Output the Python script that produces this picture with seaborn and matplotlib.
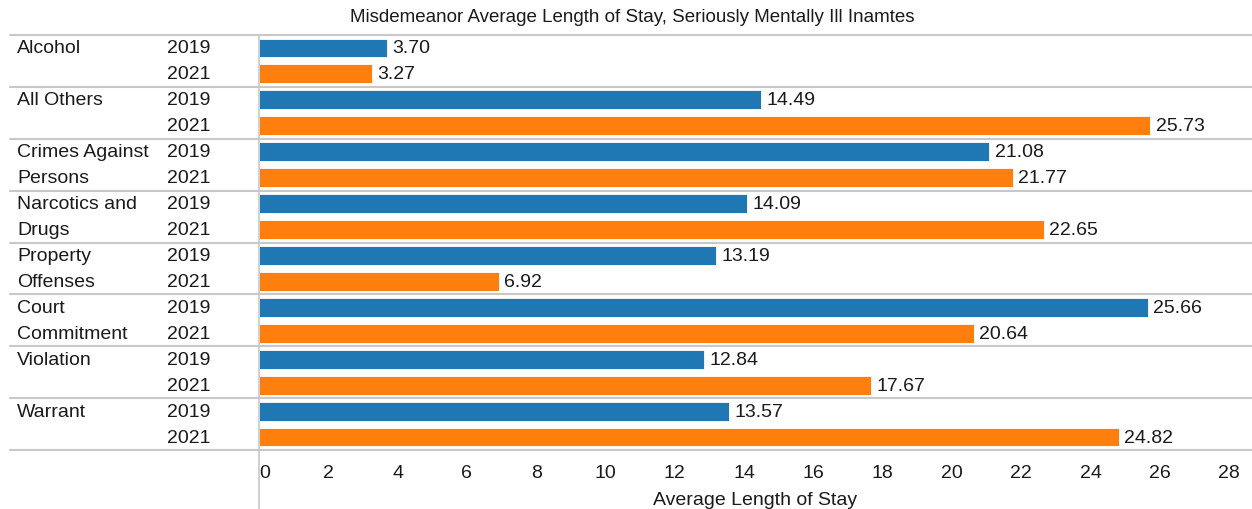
import pandas as pd
import matplotlib
matplotlib.use("Agg")
import matplotlib.pyplot as plt
import matplotlib.transforms as mtransforms
import seaborn as sns

categories = ["Alcohol", "All Others", "Crimes Against\nPersons", "Narcotics and\nDrugs",
              "Property\nOffenses", "Court\nCommitment", "Violation", "Warrant"]
years = ["2019", "2021"]
values_2019 = [3.70, 14.49, 21.08, 14.09, 13.19, 25.66, 12.84, 13.57]
values_2021 = [3.27, 25.73, 21.77, 22.65, 6.92, 20.64, 17.67, 24.82]
xticks = list(range(0, 29, 2))

rows = []
for cat, v19, v21 in zip(categories, values_2019, values_2021):
    rows.append({"row": cat + "|2019", "category": cat, "year": "2019", "value": v19})
    rows.append({"row": cat + "|2021", "category": cat, "year": "2021", "value": v21})
df = pd.DataFrame(rows)

sns.set_style("white")
plt.rcParams["font.family"] = ["Liberation Sans", "DejaVu Sans"]

fig = plt.figure(figsize=(12.52, 5.10), dpi=100)
ax = fig.add_axes([259 / 1252, 59 / 510, 993 / 1252, 415 / 510])

sns.barplot(data=df, y="row", x="value", hue="year", dodge=False, orient="h",
            palette={"2019": "#1f77b4", "2021": "#ff7f0e"}, saturation=1, width=0.73,
            edgecolor="white", linewidth=0.6, legend=False, ax=ax)

ax.set_xlim(0, 28.66)
ax.set_ylim(len(df) - 0.5, -0.5)
ax.set_xticks(xticks)
ax.set_xticklabels([str(t) for t in xticks], fontsize=14, color="#1a1a1a")
ax.get_xticklabels()[0].set_horizontalalignment("left")
ax.set_yticks([])
ax.set_ylabel("")
ax.set_xlabel("Average Length of Stay", fontsize=14, color="#1a1a1a", labelpad=7)
ax.tick_params(axis="x", direction="out", length=4, width=1, color="#c8c8c8", pad=6)
for s in ax.spines.values():
    s.set_visible(False)

# value labels
for i, v in enumerate(df["value"]):
    ax.text(v + 0.15, i, f"{v:.2f}", va="center", ha="left", fontsize=14, color="#1a1a1a")

# row headers and separators
trans = mtransforms.blended_transform_factory(fig.transFigure, ax.transData)
for g, cat in enumerate(categories):
    lines = cat.split("\n")
    for k, line in enumerate(lines):
        ax.text(17 / 1252, 2 * g + k, line, transform=trans, va="center", ha="left",
                fontsize=14, color="#1a1a1a")
    for k, yr in enumerate(years):
        ax.text(167 / 1252, 2 * g + k, yr, transform=trans, va="center", ha="left",
                fontsize=14, color="#1a1a1a")
for g in range(len(categories) + 1):
    ax.plot([10 / 1252, 1.0], [2 * g - 0.5, 2 * g - 0.5], transform=trans,
            color="#c8c8c8", lw=1.5, clip_on=False)

# vertical divider
fig.add_artist(plt.Line2D([259 / 1252, 259 / 1252], [0, 474 / 510],
                          transform=fig.transFigure, color="#c8c8c8", lw=1.2))

fig.text(632 / 1252, 492 / 510, "Misdemeanor Average Length of Stay, Seriously Mentally Ill Inamtes",
         ha="center", va="center", fontsize=13.5, color="#1a1a1a")

fig.savefig("out.png", dpi=100, facecolor="white")
